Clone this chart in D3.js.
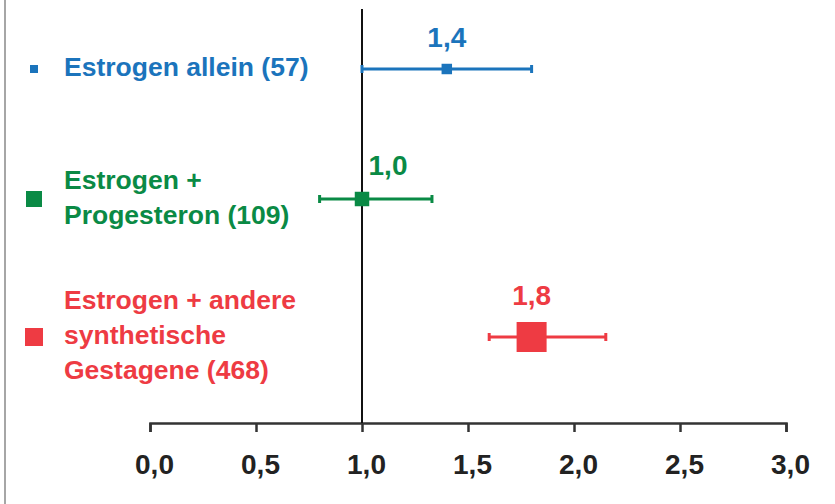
<!DOCTYPE html>
<html lang="de">
<head>
<meta charset="UTF-8">
<title>Estrogen</title>
<script src="https://cdn.jsdelivr.net/npm/d3@7"></script>
<style>
  body { margin: 0; background: #fff; }
  text { font-family: "Liberation Sans", Arial, sans-serif; font-weight: bold; }
</style>
</head>
<body>
<script>
// data
var groups = ['Estrogen allein (57)', 'Estrogen + Progesteron (109)', 'Estrogen + andere synthetische Gestagene (468)'];
var labelLines = [['Estrogen allein (57)'], ['Estrogen +', 'Progesteron (109)'], ['Estrogen + andere', 'synthetische', 'Gestagene (468)']];
var estimates = [1.4, 1.0, 1.8];
var lower = [1.0, 0.8, 1.6];
var upper = [1.8, 1.33, 2.15];
var cases = [57, 109, 468];
var xTicks = [0, 0.5, 1, 1.5, 2, 2.5, 3];

var colors = ['#1b74bc', '#0a8a45', '#ee3b43'];

var width = 835, height = 504;
var svg = d3.select('body').append('svg')
    .attr('width', width)
    .attr('height', height);

// left border
svg.append('line')
    .attr('x1', 5).attr('x2', 5)
    .attr('y1', 0).attr('y2', height)
    .attr('stroke', '#888').attr('stroke-width', 1.5);

var x = d3.scaleLinear().domain([0, 3]).range([150, 786]);
var y = d3.scaleOrdinal().domain(groups).range([69, 199, 337]);
// marker size grows with number of cases
var size = d3.scaleSqrt().domain([0, 468]).range([0, 30]);

var fmt = function(d) { return d3.format('.1f')(d).replace('.', ','); };

// x axis
var axisY = 423;
var axis = svg.append('g')
    .attr('transform', 'translate(0,' + axisY + ')')
    .call(d3.axisBottom(x).tickValues(xTicks).tickSize(9).tickSizeOuter(9).tickPadding(22).tickFormat(fmt));
axis.select('.domain').attr('stroke', '#333').attr('stroke-width', 2.5);
axis.selectAll('.tick line').attr('stroke', '#333').attr('stroke-width', 2.5);
axis.selectAll('.tick text')
    .attr('fill', '#222')
    .attr('font-size', 28)
    .attr('dx', 4)
    .style('font-family', '"Liberation Sans", Arial, sans-serif')
    .style('font-weight', 'bold');

// reference line at 1,0
svg.append('line')
    .attr('x1', x(1)).attr('x2', x(1))
    .attr('y1', 9).attr('y2', axisY)
    .attr('stroke', '#111').attr('stroke-width', 2);

var rows = svg.selectAll('g.row')
    .data(groups)
    .enter()
    .append('g')
    .attr('class', 'row');

// confidence interval lines
rows.append('line')
    .attr('x1', function(d, i) { return x(lower[i]); })
    .attr('x2', function(d, i) { return x(upper[i]); })
    .attr('y1', function(d) { return y(d); })
    .attr('y2', function(d) { return y(d); })
    .attr('stroke', function(d, i) { return colors[i]; })
    .attr('stroke-width', 3);

// caps
[lower, upper].forEach(function(arr) {
    rows.append('line')
        .attr('x1', function(d, i) { return x(arr[i]); })
        .attr('x2', function(d, i) { return x(arr[i]); })
        .attr('y1', function(d) { return y(d) - 4; })
        .attr('y2', function(d) { return y(d) + 4; })
        .attr('stroke', function(d, i) { return colors[i]; })
        .attr('stroke-width', 3);
});

// point estimate squares
rows.append('rect')
    .attr('x', function(d, i) { return x(estimates[i]) - size(cases[i]) / 2; })
    .attr('y', function(d, i) { return y(d) - size(cases[i]) / 2; })
    .attr('width', function(d, i) { return size(cases[i]); })
    .attr('height', function(d, i) { return size(cases[i]); })
    .attr('fill', function(d, i) { return colors[i]; });

// value labels (the one on the 1,0 line is pushed right)
var labelDx = [0, 26, 0];
rows.append('text')
    .attr('x', function(d, i) { return x(estimates[i]) + labelDx[i]; })
    .attr('y', function(d, i) { return y(d) - size(cases[i]) / 2 - 17; })
    .attr('text-anchor', 'middle')
    .attr('font-size', 28)
    .attr('fill', function(d, i) { return colors[i]; })
    .text(function(d, i) { return fmt(estimates[i]); });

// legend squares
var legSize = [8, 16, 18];
rows.append('rect')
    .attr('x', function(d, i) { return 34 - legSize[i] / 2; })
    .attr('y', function(d, i) { return y(d) - legSize[i] / 2; })
    .attr('width', function(d, i) { return legSize[i]; })
    .attr('height', function(d, i) { return legSize[i]; })
    .attr('fill', function(d, i) { return colors[i]; });

// legend text
var lineH = 35;
rows.append('text')
    .attr('font-size', 26.5)
    .attr('fill', function(d, i) { return colors[i]; })
    .each(function(d, i) {
        var lines = labelLines[i];
        var top = y(d) + 9 - (lines.length - 1) * lineH / 2 - 2;
        d3.select(this).selectAll('tspan')
            .data(lines)
            .enter()
            .append('tspan')
            .attr('x', 64)
            .attr('y', function(t, j) { return top + j * lineH; })
            .text(function(t) { return t; });
    });
</script>
</body>
</html>
